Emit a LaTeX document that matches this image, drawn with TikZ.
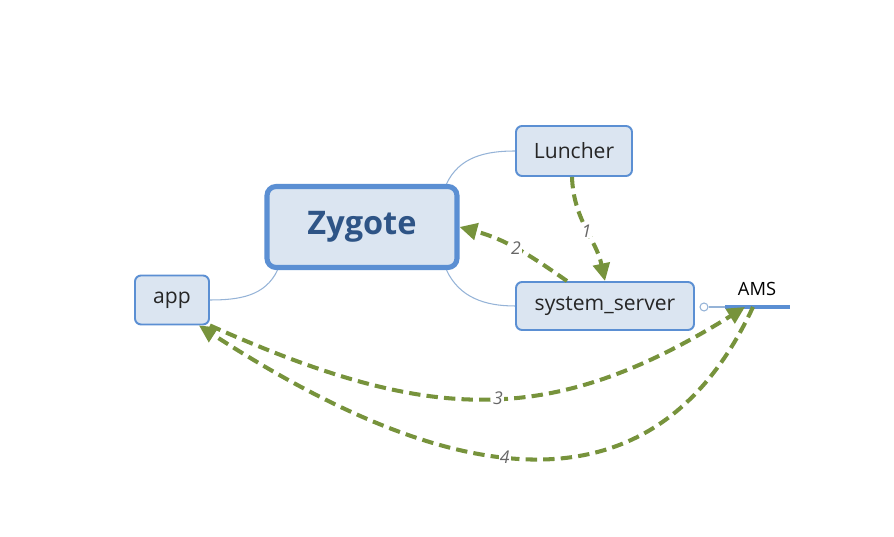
\documentclass[tikz,border=0pt]{standalone}
\usepackage{fontspec}
\setmainfont{Open Sans}
\usetikzlibrary{arrows.meta}
\definecolor{boxfill}{HTML}{DBE5F1}
\definecolor{boxline}{HTML}{5B8FD3}
\definecolor{linkline}{HTML}{95B3D7}
\definecolor{callgreen}{HTML}{77933C}
\definecolor{zytext}{HTML}{2E5486}

\begin{document}
\begin{tikzpicture}[x=0.02cm, y=0.02cm]
				\tikzstyle{every node}=[align=center, inner sep=1pt]
				\tikzstyle{topic}=[draw=boxline, fill=boxfill, rounded corners=0.12cm, line width=1.1pt, text=black!85, font=\fontsize{12}{14}\selectfont]
				\tikzstyle{link}=[draw=linkline, line width=0.6pt]
				\tikzstyle{call}=[draw=callgreen, line width=2.3pt, dash pattern=on 6.5pt off 3.5pt, -{Triangle[length=10pt, width=9.5pt]}]
				\tikzstyle{num}=[fill=white, inner sep=0.5pt, text=black!60, font=\itshape\fontsize{10}{12}\selectfont]
				\useasboundingbox (0, 0) rectangle (894, 537);

				\node[topic, line width=2.9pt, rounded corners=0.18cm, minimum width=3.8cm, minimum height=1.62cm, text=zytext, font=\fontsize{18.5}{22}\selectfont\bfseries] (Zygote) at (362, 310) {Zygote};
				\node[topic, minimum width=2.32cm, minimum height=1cm] (Luncher) at (574, 386) {Luncher};
				\node[topic, minimum width=3.56cm, minimum height=0.96cm] (Sys) at (605, 231) {system\_server};
				\node[topic, minimum width=1.48cm, minimum height=0.98cm] (App) at (172, 237) {app};
				\node[font=\fontsize{10.4}{12}\selectfont] (AMS) at (757, 248) {AMS};

				\draw[link]  (Zygote.27) to[out=65, in=180] (Luncher.west);
				\draw[link]  (Zygote.-27) to[out=-65, in=180] (Sys.west);
				\draw[link]  (Zygote.-153) to[out=-115, in=0] (App.east);

				% AMS handle
				\node[circle, draw=linkline, line width=0.6pt, minimum size=0.16cm, inner sep=0pt] (Knob) at (704, 230) {};
				\coordinate (AmsL) at (725, 230);
				\coordinate (AmsR) at (790, 230);
				\coordinate (AmsIn) at (745, 230);
				\coordinate (AmsOut) at (753, 230);
				\draw[link]  (Knob) to (AmsL);
				\draw[draw=boxline, line width=1.8pt]  (AmsL) to (AmsR);

				\draw[call]  ([xshift=-0.04cm]Luncher.south) to[out=-88, in=102] node[num, pos=0.52] {1} (Sys.north);
				\draw[call]  ([xshift=-0.76cm]Sys.north) to[out=145, in=-15] node[num] {2} (Zygote.east);
				\draw[call]  (App.south east) to[out=-24, in=212, looseness=1.12] node[num, pos=0.53] {3} (AmsIn);
				\draw[call]  (AmsOut) to[out=245, in=-33, looseness=1.2] node[num, pos=0.52] {4} ([xshift=-0.22cm]App.south east);
			\end{tikzpicture}
\end{document}
